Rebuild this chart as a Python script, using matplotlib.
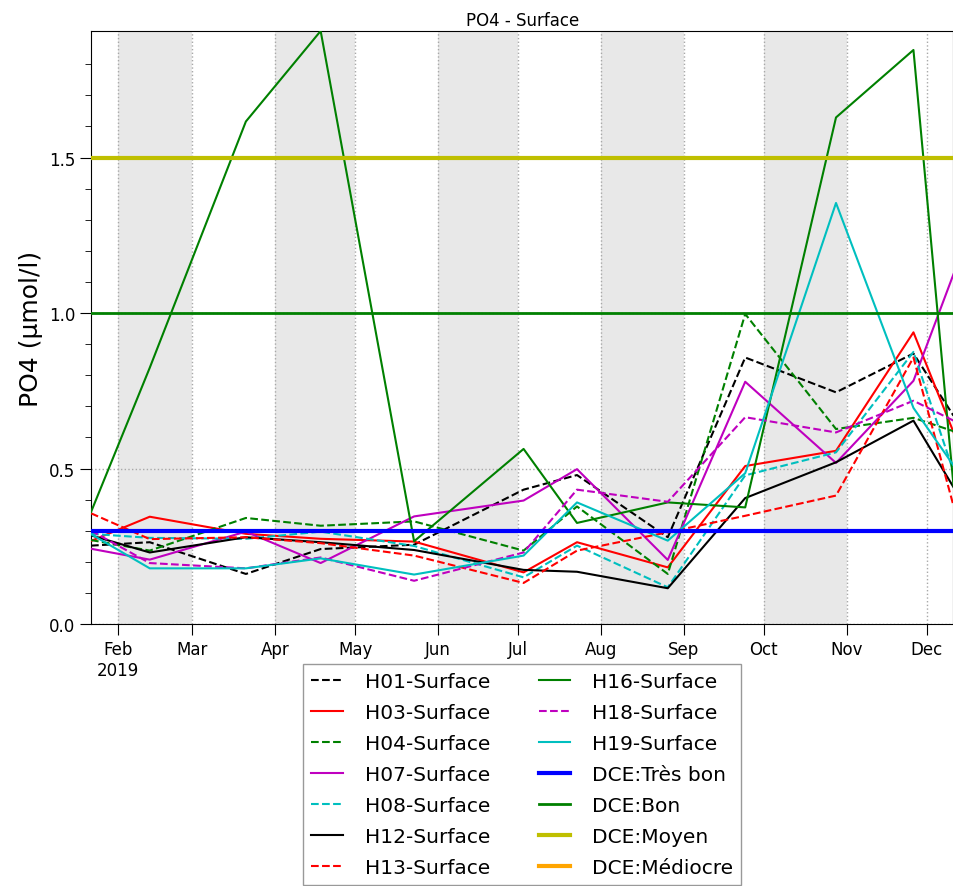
import matplotlib
matplotlib.use("Agg")
import matplotlib.pyplot as plt
import numpy as np
import pandas as pd

# sampling dates shared by all stations
dates = pd.to_datetime([
    "2019-01-22", "2019-02-13", "2019-03-21", "2019-04-18", "2019-05-23",
    "2019-07-03", "2019-07-23", "2019-08-26", "2019-09-24", "2019-10-28",
    "2019-11-26", "2019-12-11",
])

# PO4 surface concentrations (µmol/l) per station
h01 = [0.252, 0.263, 0.161, 0.241, 0.255, 0.432, 0.479, 0.279, 0.857, 0.745, 0.870, 0.670]
h03 = [0.267, 0.345, 0.290, 0.274, 0.265, 0.166, 0.263, 0.182, 0.508, 0.557, 0.938, 0.617]
h04 = [0.270, 0.236, 0.341, 0.316, 0.330, 0.236, 0.378, 0.161, 0.997, 0.627, 0.663, 0.620]
h07 = [0.242, 0.207, 0.297, 0.196, 0.346, 0.397, 0.498, 0.206, 0.779, 0.518, 0.782, 1.125]
h08 = [0.290, 0.277, 0.274, 0.297, 0.251, 0.150, 0.252, 0.118, 0.478, 0.552, 0.875, 0.490]
h12 = [0.285, 0.230, 0.279, 0.263, 0.238, 0.174, 0.168, 0.115, 0.405, 0.520, 0.654, 0.440]
h13 = [0.356, 0.273, 0.279, 0.260, 0.220, 0.132, 0.236, 0.295, 0.348, 0.413, 0.857, 0.380]
h16 = [0.360, 0.824, 1.616, 1.907, 0.266, 0.563, 0.325, 0.391, 0.375, 1.629, 1.846, 0.445]
h18 = [0.300, 0.196, 0.179, 0.214, 0.139, 0.230, 0.432, 0.393, 0.665, 0.616, 0.718, 0.654]
h19 = [0.289, 0.179, 0.179, 0.211, 0.159, 0.220, 0.391, 0.268, 0.485, 1.354, 0.695, 0.510]

stations = ["H01", "H03", "H04", "H07", "H08", "H12", "H13", "H16", "H18", "H19"]
series = [h01, h03, h04, h07, h08, h12, h13, h16, h18, h19]
colors = ["k", "r", "g", "m", "c", "k", "r", "g", "m", "c"]
styles = ["--", "-", "--", "-", "--", "-", "--", "-", "--", "-"]

# DCE quality class thresholds
dce_names = ["Très bon", "Bon", "Moyen", "Médiocre"]
dce_values = [0.3, 1.0, 1.5, 3.0]
dce_colors = ["#0000ff", "#008000", "#bfbf00", "#ffa500"]
dce_widths = [3, 2, 3, 3]

month_labels = ["Feb\n2019", "Mar", "Apr", "May", "Jun", "Jul", "Aug", "Sep",
                "Oct", "Nov", "Dec"]
month_starts = pd.date_range("2019-02-01", "2019-12-01", freq="MS")

fig = plt.figure(figsize=(9.54, 8.87), dpi=100)
ax = fig.add_axes([91 / 954, 1 - 625 / 887, 862.5 / 954, 593 / 887])

# alternate shading of months
for i in range(0, len(month_starts) - 1, 2):
    ax.axvspan(month_starts[i], month_starts[i + 1], color="#e8e8e8", lw=0, zorder=0)

for name, vals, c, ls in zip(stations, series, colors, styles):
    ax.plot(dates, vals, color=c, ls=ls, lw=1.5, label=name + "-Surface", zorder=3)

for name, v, c, w in zip(dce_names, dce_values, dce_colors, dce_widths):
    ax.axhline(v, color=c, lw=w, label="DCE:" + name, zorder=4)

ymax = max(max(s) for s in series)
ax.set_ylim(0, ymax)
ax.set_xlim(dates[0], dates[-1])

ax.set_xticks(month_starts)
ax.set_xticklabels(month_labels)
ax.set_yticks([0.0, 0.5, 1.0, 1.5])
ax.set_yticks(np.arange(0.1, 1.9, 0.1), minor=True)
ax.tick_params(axis="both", which="major", direction="out", length=8,
               labelsize=12, top=False, right=False)
ax.tick_params(axis="y", which="minor", direction="out", length=4, right=False)
ax.grid(True, which="major", color="#a8a8a8", ls=":", lw=1, zorder=1)

ax.set_title("PO4 - Surface", fontsize=12, pad=4)
ax.set_ylabel("PO4 (µmol/l)", fontsize=18)

leg = ax.legend(loc="upper center", bbox_to_anchor=(0.5, -0.05), ncol=2,
                fontsize=14.5, fancybox=False, columnspacing=2.4,
                handlelength=1.55, handletextpad=1.1, labelspacing=0.6)
leg.get_frame().set_edgecolor("#808080")

fig.savefig("out.png", dpi=100)
